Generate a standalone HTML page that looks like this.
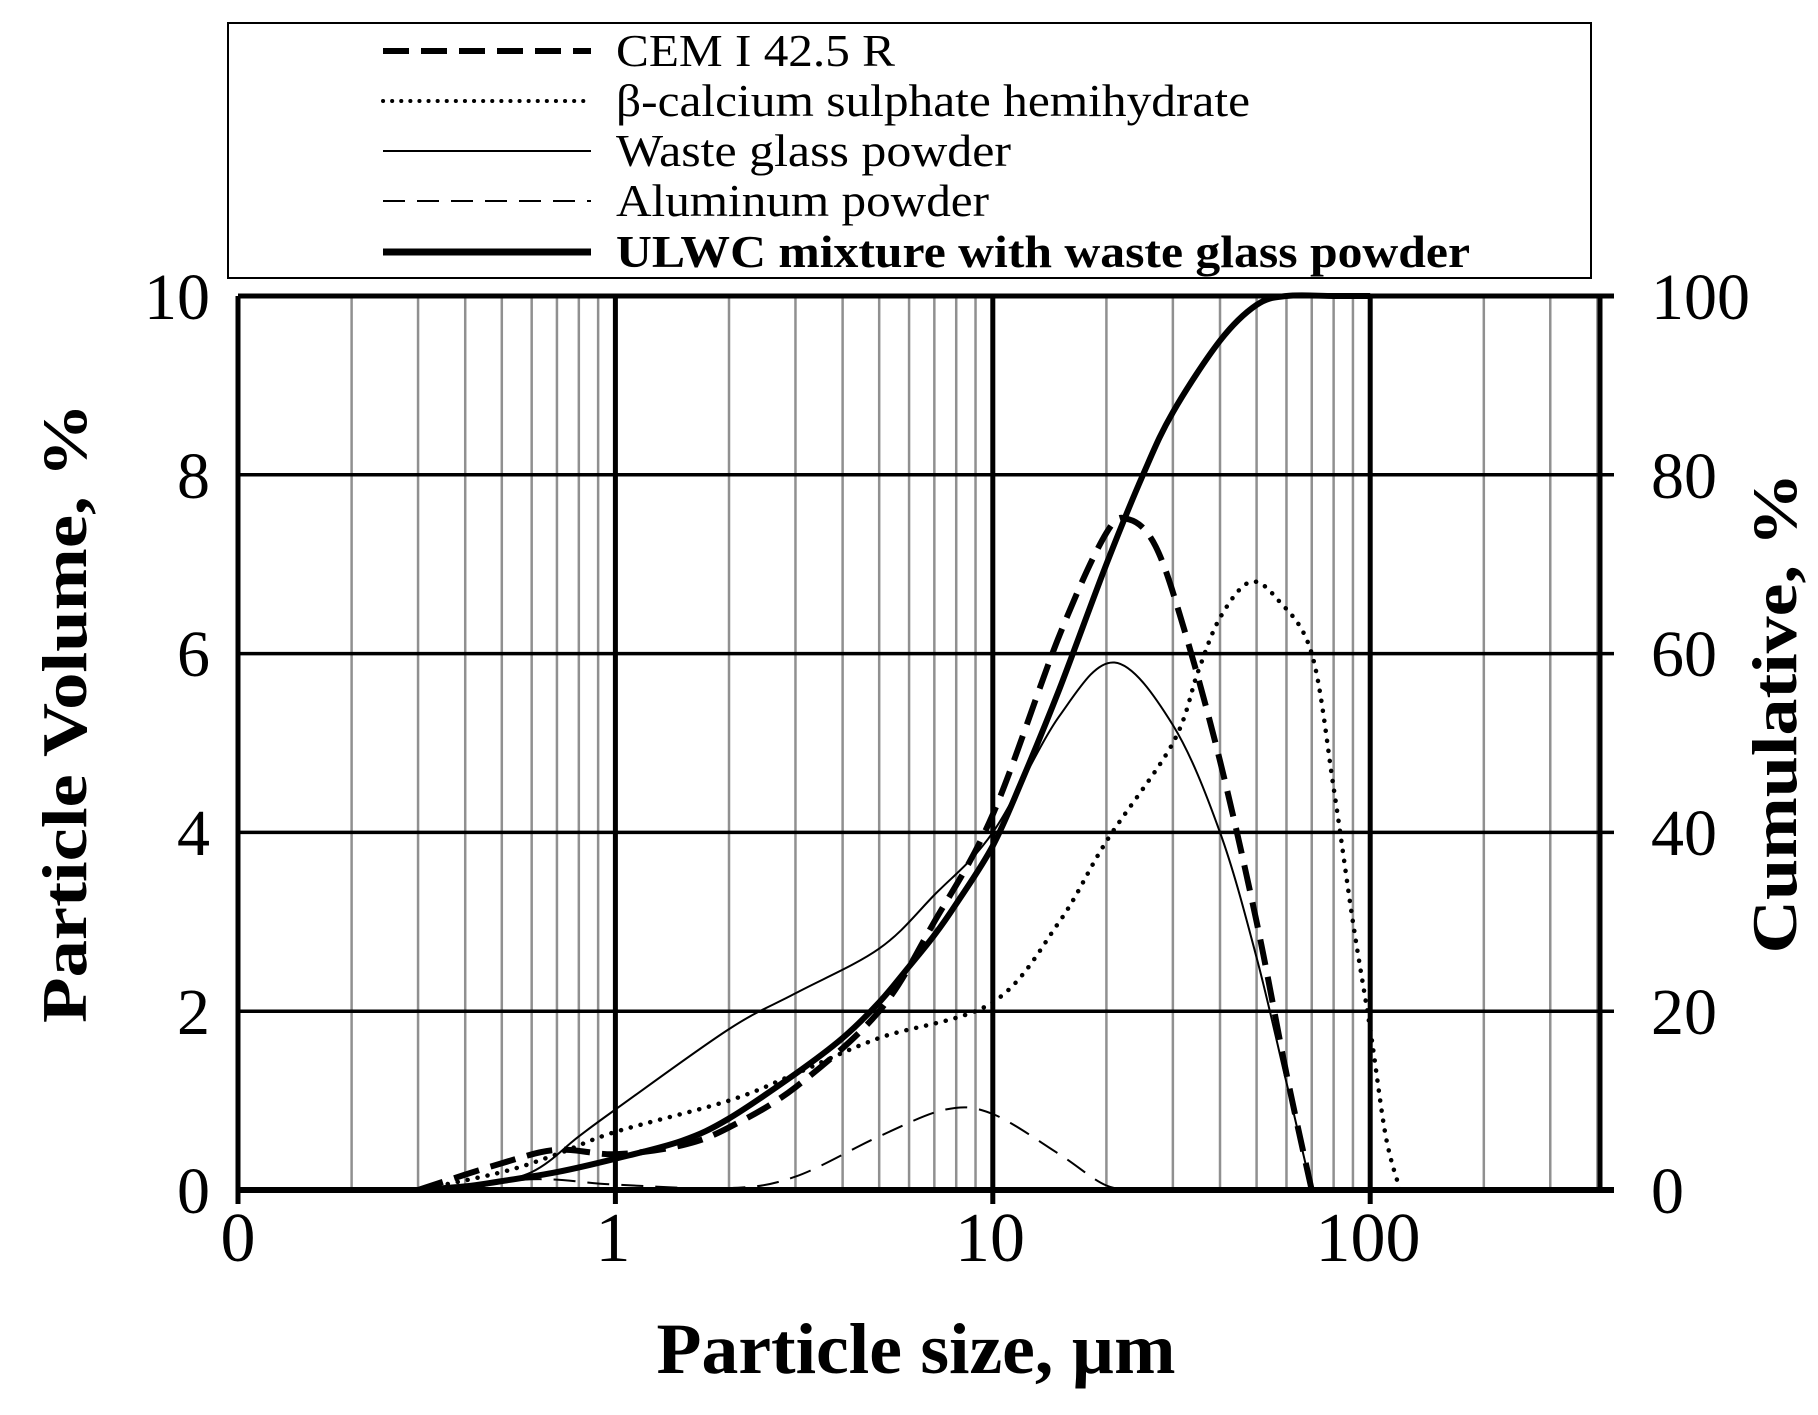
<!DOCTYPE html>
<html><head><meta charset="utf-8">
<style>
html,body{margin:0;padding:0;background:#fff;}
svg text{font-family:"Liberation Serif",serif;fill:#000;}
</style></head>
<body>
<svg id="s" width="1818" height="1410" xmlns="http://www.w3.org/2000/svg">
<rect x="0" y="0" width="1818" height="1410" fill="#fff"/>
<g id="grid"></g>
<g id="curves" fill="none" stroke="#000"></g>
<rect x="228" y="23" width="1363" height="255" fill="#fff" stroke="#000" stroke-width="2"/>
<line x1="383" y1="51" x2="591" y2="51" stroke="#000" stroke-width="6" stroke-dasharray="26,12"/>
<line x1="383" y1="101" x2="591" y2="101" stroke="#000" stroke-width="4" stroke-dasharray="0.1,9" stroke-linecap="round"/>
<line x1="383" y1="151" x2="591" y2="151" stroke="#000" stroke-width="2"/>
<line x1="383" y1="201" x2="591" y2="201" stroke="#000" stroke-width="2" stroke-dasharray="22,12"/>
<line x1="383" y1="252" x2="591" y2="252" stroke="#000" stroke-width="7"/>
<g font-size="46">
<text x="616" y="66" textLength="279" lengthAdjust="spacingAndGlyphs">CEM I 42.5 R</text>
<text x="616" y="116" textLength="634" lengthAdjust="spacingAndGlyphs">β-calcium sulphate hemihydrate</text>
<text x="616" y="166" textLength="395" lengthAdjust="spacingAndGlyphs">Waste glass powder</text>
<text x="616" y="216" textLength="373" lengthAdjust="spacingAndGlyphs">Aluminum powder</text>
<text x="616" y="267" font-weight="bold" textLength="854" lengthAdjust="spacingAndGlyphs">ULWC mixture with waste glass powder</text>
</g>
<g font-size="66" text-anchor="end">
<text x="210" y="319">10</text><text x="210" y="498">8</text><text x="210" y="676">6</text>
<text x="210" y="855">4</text><text x="210" y="1034">2</text><text x="210" y="1213">0</text>
</g>
<g font-size="66" text-anchor="start">
<text x="1651" y="319">100</text><text x="1651" y="498">80</text><text x="1651" y="676">60</text>
<text x="1651" y="855">40</text><text x="1651" y="1034">20</text><text x="1651" y="1213">0</text>
</g>
<g font-size="70" text-anchor="middle">
<text x="238" y="1261">0</text><text x="613" y="1261">1</text><text x="990" y="1261">10</text><text x="1368" y="1261">100</text>
</g>
<text x="916" y="1373" font-size="72" font-weight="bold" text-anchor="middle" textLength="519" lengthAdjust="spacingAndGlyphs">Particle size, µm</text>
<text transform="translate(86,713) rotate(-90)" font-size="64" font-weight="bold" text-anchor="middle" textLength="620" lengthAdjust="spacingAndGlyphs">Particle Volume, %</text>
<text transform="translate(1796,713) rotate(-90)" font-size="64" font-weight="bold" text-anchor="middle" textLength="481" lengthAdjust="spacingAndGlyphs">Cumulative, %</text>
</svg>
<script>
var NS="http://www.w3.org/2000/svg";
function X(v){return 238+(Math.log10(v)+1)*377.4;}
function Y(v){return 1190-v*89.4;}
var g=document.getElementById('grid'),c=document.getElementById('curves');
function line(p,x1,y1,x2,y2,col,w){var l=document.createElementNS(NS,'line');l.setAttribute('x1',x1);l.setAttribute('y1',y1);l.setAttribute('x2',x2);l.setAttribute('y2',y2);l.setAttribute('stroke',col);l.setAttribute('stroke-width',w);p.appendChild(l);}
var L=238,R=1600,T=296,B=1190;
[0.1,1,10,100].forEach(function(d){for(var k=2;k<=9;k++){var x=X(d*k);if(x<R-2)line(g,x,T,x,B,'#909090',2.5);}});
for(var i=1;i<=5;i++){var y=Y(i*2);line(g,L,y,R+14,y,'#000',3.5);}
[1,10,100].forEach(function(v){line(g,X(v),T,X(v),B+14,'#000',5);});
line(g,L,T,L,B+14,'#000',5);line(g,R,T,R,B,'#000',5);
line(g,L,B,R+14,B,'#000',6);
line(g,L,T,R+14,T,'#000',5);
function path(pts,attrs){
 var P=pts.map(function(p){return [X(p[0]),Y(p[1])];});
 var d='M'+P[0][0].toFixed(1)+','+P[0][1].toFixed(1);
 for(var i=0;i<P.length-1;i++){var p0=P[Math.max(i-1,0)],p1=P[i],p2=P[i+1],p3=P[Math.min(i+2,P.length-1)];
 var c1=[p1[0]+(p2[0]-p0[0])/6,p1[1]+(p2[1]-p0[1])/6],c2=[p2[0]-(p3[0]-p1[0])/6,p2[1]-(p3[1]-p1[1])/6];
 d+=' C'+c1[0].toFixed(1)+','+c1[1].toFixed(1)+' '+c2[0].toFixed(1)+','+c2[1].toFixed(1)+' '+p2[0].toFixed(1)+','+p2[1].toFixed(1);}
 var e=document.createElementNS(NS,'path');e.setAttribute('d',d);for(var k in attrs)e.setAttribute(k,attrs[k]);c.appendChild(e);}
path([[0.3,0],[0.4,0.04],[0.5,0.1],[0.7,0.2],[1,0.35],[1.5,0.55],[2,0.8],[3,1.3],[4,1.7],[5,2.1],[6,2.5],[7,2.85],[8,3.2],[10,3.85],[12,4.6],[15,5.6],[20,7.0],[25,8.0],[30,8.7],[40,9.5],[50,9.9],[60,10],[80,10],[100,10]],{'stroke-width':6});
path([[0.3,0],[0.5,0.3],[0.7,0.45],[1,0.4],[1.5,0.5],[2,0.7],[3,1.15],[5,2.0],[7,3.0],[10,4.2],[15,6.2],[20,7.35],[23,7.5],[27,7.2],[32,6.3],[40,4.8],[50,3],[60,1.3],[70,0]],{'stroke-width':6,'stroke-dasharray':'26,12'});
path([[0.3,0],[0.5,0.2],[0.7,0.4],[1,0.65],[2,1.0],[3,1.3],[5,1.7],[10,2.1],[15,3],[20,3.9],[30,5],[35,5.8],[40,6.4],[48,6.8],[57,6.6],[70,6.0],[80,4.5],[90,3],[100,1.8],[110,0.6],[120,0]],{'stroke-width':4.5,'stroke-dasharray':'0.1,10','stroke-linecap':'round'});
path([[0.4,0],[0.6,0.2],[0.8,0.6],[1,0.9],[2,1.8],[3,2.2],[5,2.7],[7,3.3],[10,4.0],[15,5.3],[21,5.9],[30,5.2],[40,4],[50,2.6],[60,1.2],[70,0]],{'stroke-width':2});
path([[0.3,0],[0.6,0.12],[1,0.06],[2,0.02],[3,0.15],[5,0.6],[7.5,0.9],[10,0.85],[15,0.4],[20,0.05],[25,0]],{'stroke-width':2,'stroke-dasharray':'22,12'});
</script>
</body></html>
